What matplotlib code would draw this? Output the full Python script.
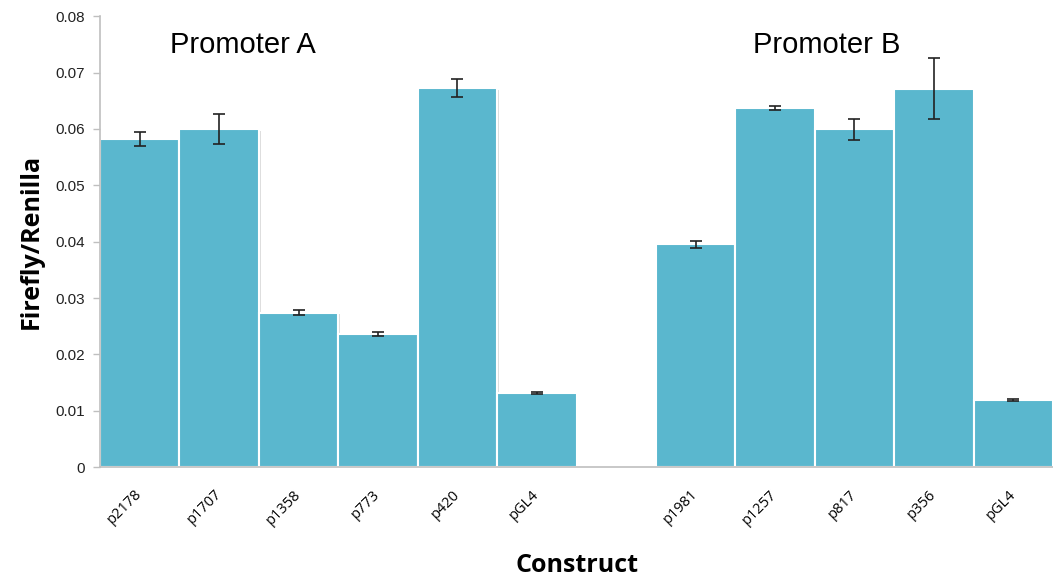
import matplotlib
matplotlib.use("Agg")
import matplotlib.pyplot as plt
import matplotlib.patheffects as pe
import numpy as np

# Luciferase reporter results (Firefly / Renilla ratio)
constructs_a = ["p2178", "p1707", "p1358", "p773", "p420", "pGL4"]
ratio_a = [0.0582, 0.0600, 0.0274, 0.0236, 0.0672, 0.0132]
err_a = [0.0013, 0.0026, 0.0005, 0.0004, 0.0016, 0.0002]

constructs_b = ["p1981", "p1257", "p817", "p356", "pGL4"]
ratio_b = [0.0395, 0.0637, 0.0599, 0.0671, 0.0119]
err_b = [0.0006, 0.0004, 0.0019, 0.0054, 0.0002]

group_titles = ["Promoter A", "Promoter B"]
y_ticks = [0, 0.01, 0.02, 0.03, 0.04, 0.05, 0.06, 0.07, 0.08]
y_ticklabels = ["0", "0.01", "0.02", "0.03", "0.04", "0.05", "0.06", "0.07", "0.08"]

bar_color = "#5ab7ce"
axis_gray = "#bfbfbf"

fig = plt.figure(figsize=(10.53, 5.76), dpi=100)
ax = fig.add_axes([0.095, 0.189, 0.905, 0.783])

# Group A occupies slots 0-5, one empty slot, group B slots 7-11
pos_a = np.arange(len(constructs_a))
pos_b = np.arange(len(constructs_b)) + len(constructs_a) + 1
positions = np.concatenate([pos_a, pos_b])
values = ratio_a + ratio_b
errors = err_a + err_b
labels = constructs_a + constructs_b

bars = ax.bar(positions, values, width=1.0, color=bar_color,
              edgecolor="white", linewidth=1.5, zorder=2)
for b in bars:
    b.set_path_effects([pe.SimplePatchShadow(offset=(1.2, -1.2), shadow_rgbFace="#aaaaaa", alpha=0.4),
                        pe.Normal()])

ax.errorbar(positions, values, yerr=errors, fmt="none", ecolor="#222222",
            elinewidth=1.2, capsize=4, capthick=1.2, zorder=3)

ax.set_xlim(-0.5, positions[-1] + 0.5)
ax.set_ylim(0, 0.08)
ax.set_yticks(y_ticks)
ax.set_yticklabels(y_ticklabels, fontsize=11, family="Liberation Sans")
ax.set_xticks(positions)
ax.set_xticklabels(labels, rotation=45, ha="right", va="center",
                   rotation_mode="anchor", fontsize=10.5, family="Open Sans")

ax.tick_params(axis="x", length=0, pad=18)
ax.tick_params(axis="y", length=5, width=1, pad=6, labelcolor="#222222", color=axis_gray)

for side in ["top", "right"]:
    ax.spines[side].set_visible(False)
for side in ["left", "bottom"]:
    ax.spines[side].set_color(axis_gray)
    ax.spines[side].set_linewidth(1.2)

ax.set_ylabel("Firefly/Renilla", fontsize=18, fontweight="bold", family="Open Sans", labelpad=8)
ax.set_xlabel("Construct", fontsize=18, fontweight="bold", family="Open Sans", labelpad=18)

ax.text(1.3, 0.0749, group_titles[0], fontsize=21, family="Liberation Sans",
        ha="center", va="center")
ax.text(8.65, 0.0749, group_titles[1], fontsize=21, family="Liberation Sans",
        ha="center", va="center")

fig.savefig("out.png", dpi=100)
